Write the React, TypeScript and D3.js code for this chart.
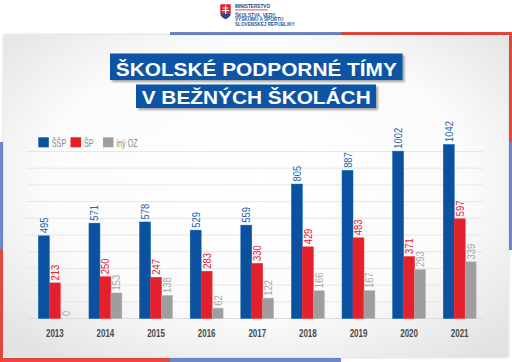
import React from "react";
import * as d3 from "d3";

const years = ["2013", "2014", "2015", "2016", "2017", "2018", "2019", "2020", "2021"];
const seriesNames = ["ŠŠP", "ŠP", "iný OZ"];
const ssp = [495, 571, 578, 529, 559, 805, 887, 1002, 1042];
const sp = [213, 250, 247, 283, 330, 429, 483, 371, 597];
const oz = [0, 153, 138, 62, 122, 166, 167, 293, 339];
const yTicks = [0, 100, 200, 300, 400, 500, 600, 700, 800, 900, 1000];
const titleLines = ["ŠKOLSKÉ PODPORNÉ TÍMY", "V BEŽNÝCH ŠKOLÁCH"];
const logoLines = ["MINISTERSTVO", "ŠKOLSTVA, VEDY,", "VÝSKUMU A ŠPORTU", "SLOVENSKEJ REPUBLIKY"];

const W = 512, H = 362;
const barColors = ["#0a52a0", "#e3202b", "#9e9e9e"];
const labelColors = ["#2263ad", "#e3202b", "#a8a8a8"];
const BLUE_LINE = "#6d87c8", RED_LINE = "#e5483c";
const SANS = "'Liberation Sans', Arial, sans-serif";

export default function App() {
  const series = [ssp, sp, oz];
  const x = d3.scaleBand<string>().domain(years).range([29.5, 485]).paddingInner(0.35).paddingOuter(0.175);
  const xs = d3.scaleBand<number>().domain([0, 1, 2]).range([0, x.bandwidth()]);
  const y = d3.scaleLinear().domain([0, 1000]).range([318.5, 151.5]);

  return (
    <svg width={W} height={H} style={{ position: "absolute", left: 0, top: 0, display: "block" }}>
      <defs>
        <radialGradient id="cardBg" cx="50%" cy="45%" r="70%">
          <stop offset="0%" stopColor="#ffffff" />
          <stop offset="60%" stopColor="#fbfbfb" />
          <stop offset="100%" stopColor="#e2e2e2" />
        </radialGradient>
        <filter id="cardShadow" x="-5%" y="-5%" width="110%" height="110%">
          <feDropShadow dx="0" dy="0" stdDeviation="1.5" floodColor="#000" floodOpacity="0.25" />
        </filter>
        <filter id="boxShadow" x="-5%" y="-20%" width="115%" height="150%">
          <feDropShadow dx="2" dy="2" stdDeviation="1" floodColor="#000" floodOpacity="0.35" />
        </filter>
      </defs>
      <rect x={0} y={0} width={W} height={H} fill="#ffffff" />

      {/* frame lines */}
      <rect x={170} y={32} width={171} height={3} fill={BLUE_LINE} />
      <rect x={341} y={32} width={171} height={3} fill={RED_LINE} />
      <rect x={509} y={32} width={3} height={110} fill={RED_LINE} />
      <rect x={509} y={142} width={3} height={108} fill={BLUE_LINE} />
      <rect x={0} y={142} width={3} height={108} fill={BLUE_LINE} />
      <rect x={0} y={250} width={3} height={112} fill={RED_LINE} />
      <rect x={0} y={358} width={170} height={4} fill={RED_LINE} />
      <rect x={170} y={358} width={171} height={4} fill={BLUE_LINE} />

      {/* card */}
      <rect x={4} y={35} width={504} height={322} fill="url(#cardBg)" filter="url(#cardShadow)" />

      {/* logo */}
      <g>
        <path d="M220,4 H231 V13 Q231,17 225.5,19.5 Q220,17 220,13 Z" fill="#e3202b" stroke="#fff" strokeWidth={0.5} />
        <path d="M220.5,15 Q222,13 223.5,14.5 Q225.5,12.5 227.5,14.5 Q229,13 230.5,15 Q229,17.5 225.5,19 Q222,17.5 220.5,15 Z" fill="#0a52a0" />
        <rect x={225} y={5.5} width={1.2} height={8.5} fill="#fff" />
        <rect x={222.8} y={7.5} width={5.6} height={1} fill="#fff" />
        <rect x={222} y={10} width={7.2} height={1.1} fill="#fff" />
        {logoLines.map((t, i) => (
          <text key={t} transform={`translate(235,${[8, 16.5, 21, 25.5][i]}) scale(0.9,1)`} fontFamily={SANS}
            fontWeight="bold" fontSize={5.2} fill={i === 0 ? "#1d3b82" : "#2557a6"}>{t}</text>
        ))}
        <rect x={235} y={9.5} width={33} height={0.8} fill="#e3202b" />
      </g>

      {/* title */}
      <rect x={110} y={53.5} width={292.5} height={26.5} fill="#0b54a4" filter="url(#boxShadow)" />
      <rect x={136} y={84.5} width={240} height={23.5} fill="#0b54a4" filter="url(#boxShadow)" />
      <text x={256.3} y={75.5} textAnchor="middle" fontFamily={SANS} fontWeight="bold"
        fontSize={19} fill="#fff" textLength={281} lengthAdjust="spacingAndGlyphs">{titleLines[0]}</text>
      <text x={256.2} y={103.5} textAnchor="middle" fontFamily={SANS} fontWeight="bold"
        fontSize={19} fill="#fff" textLength={229} lengthAdjust="spacingAndGlyphs">{titleLines[1]}</text>

      {/* legend */}
      {seriesNames.map((n, i) => {
        const lx = [38.3, 70.5, 103][i];
        return (
          <g key={n}>
            <rect x={lx} y={137.3} width={10.5} height={10} fill={barColors[i]} />
            <text transform={`translate(${lx + 13.5},146.8) scale(0.72,1)`} fontFamily={SANS} fontSize={10}
              fill="#8a8a8a">{n}</text>
          </g>
        );
      })}

      {/* grid */}
      {yTicks.map((t) => (
        <line key={t} x1={27} x2={483} y1={y(t)} y2={y(t)} stroke={t === 0 ? "#dcdcdc" : "#e6e6e6"} strokeWidth={1} />
      ))}

      {/* bars */}
      {years.map((yr, gi) => (
        <g key={yr} transform={`translate(${x(yr)},0)`}>
          {series.map((s, si) => {
            const v = s[gi];
            const bx = xs(si)!;
            const bw = xs.bandwidth();
            const top = y(v);
            const cx = bx + bw / 2;
            return (
              <g key={si}>
                {v > 0 && (
                  <rect x={bx} y={top} width={bw} height={y(0) - top} fill={barColors[si]}
                    stroke={d3.color(barColors[si])!.brighter(0.4).toString()} strokeWidth={0.5} />
                )}
                <text transform={`translate(${cx + 4},${top - 2.5}) rotate(-90) scale(0.82,1)`} fontFamily={SANS}
                  fontSize={11.5} fill={labelColors[si]}>{v}</text>
              </g>
            );
          })}
          <text transform={`translate(${x.bandwidth() / 2},336.8) scale(0.78,1)`} textAnchor="middle" fontFamily={SANS}
            fontWeight="bold" fontSize={10.2} fill="#4a4a4a">{yr}</text>
        </g>
      ))}
    </svg>
  );
}
